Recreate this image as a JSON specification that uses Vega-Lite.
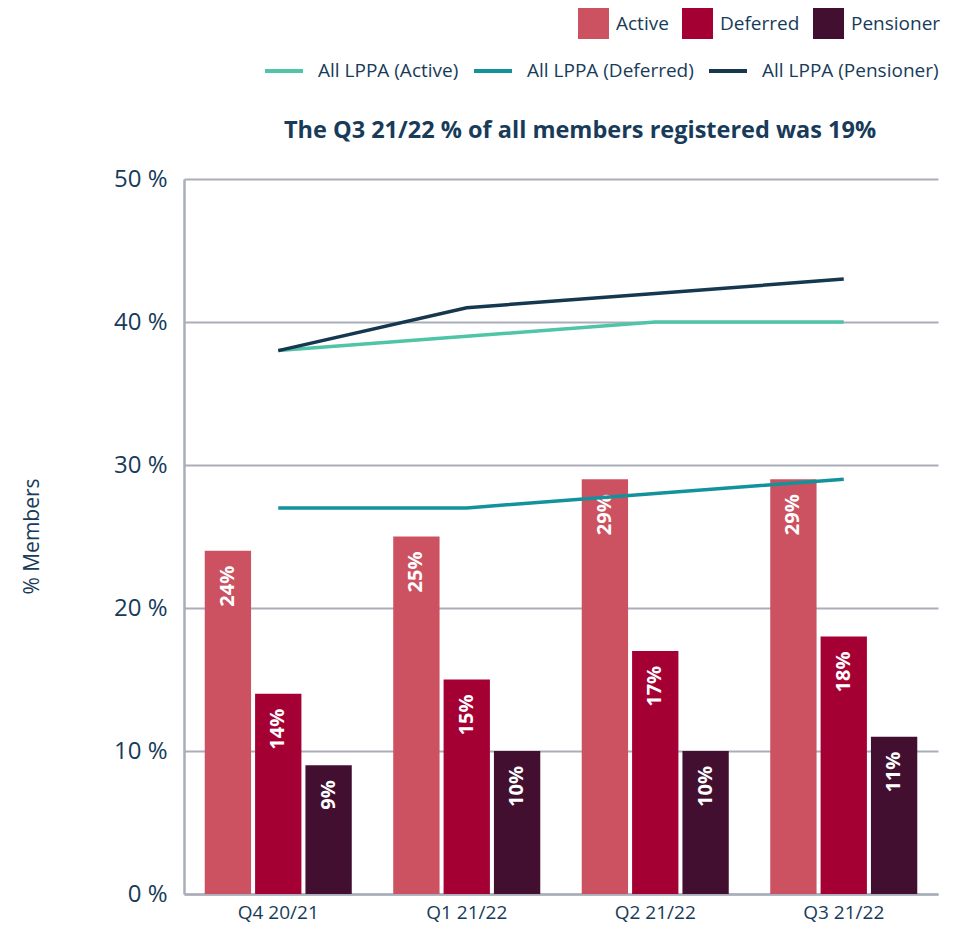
{
  "$schema": "https://vega.github.io/schema/vega-lite/v6.json",
  "width": 754,
  "height": 715,
  "autosize": {"type": "none"},
  "padding": {"left": 184, "top": 179, "right": 26, "bottom": 42},
  "background": "white",
  "config": {
    "font": "Open Sans",
    "view": {"stroke": null},
    "axis": {"labelColor": "#173b59", "titleColor": "#173b59"},
    "legend": {"labelColor": "#173b59", "labelLimit": 400}
  },
  "title": {
    "text": "The Q3 21/22 % of all members registered was 19%",
    "fontSize": 23.5,
    "fontWeight": "bold",
    "color": "#173b59",
    "anchor": "middle",
    "dx": 19,
    "offset": -134
  },
  "datasets": {
    "bars": [
      {"quarter": "Q4 20/21", "type": "Active", "value": 24},
      {"quarter": "Q4 20/21", "type": "Deferred", "value": 14},
      {"quarter": "Q4 20/21", "type": "Pensioner", "value": 9},
      {"quarter": "Q1 21/22", "type": "Active", "value": 25},
      {"quarter": "Q1 21/22", "type": "Deferred", "value": 15},
      {"quarter": "Q1 21/22", "type": "Pensioner", "value": 10},
      {"quarter": "Q2 21/22", "type": "Active", "value": 29},
      {"quarter": "Q2 21/22", "type": "Deferred", "value": 17},
      {"quarter": "Q2 21/22", "type": "Pensioner", "value": 10},
      {"quarter": "Q3 21/22", "type": "Active", "value": 29},
      {"quarter": "Q3 21/22", "type": "Deferred", "value": 18},
      {"quarter": "Q3 21/22", "type": "Pensioner", "value": 11}
    ],
    "lines": [
      {"quarter": "Q4 20/21", "series": "All LPPA (Active)", "value": 38},
      {"quarter": "Q1 21/22", "series": "All LPPA (Active)", "value": 39},
      {"quarter": "Q2 21/22", "series": "All LPPA (Active)", "value": 40},
      {"quarter": "Q3 21/22", "series": "All LPPA (Active)", "value": 40},
      {"quarter": "Q4 20/21", "series": "All LPPA (Deferred)", "value": 27},
      {"quarter": "Q1 21/22", "series": "All LPPA (Deferred)", "value": 27},
      {"quarter": "Q2 21/22", "series": "All LPPA (Deferred)", "value": 28},
      {"quarter": "Q3 21/22", "series": "All LPPA (Deferred)", "value": 29},
      {"quarter": "Q4 20/21", "series": "All LPPA (Pensioner)", "value": 38},
      {"quarter": "Q1 21/22", "series": "All LPPA (Pensioner)", "value": 41},
      {"quarter": "Q2 21/22", "series": "All LPPA (Pensioner)", "value": 42},
      {"quarter": "Q3 21/22", "series": "All LPPA (Pensioner)", "value": 43}
    ]
  },
  "layer": [
    {
      "data": {"name": "bars"},
      "mark": {"type": "bar"},
      "encoding": {
        "x": {
          "field": "quarter", "type": "nominal",
          "sort": ["Q4 20/21", "Q1 21/22", "Q2 21/22", "Q3 21/22"],
          "scale": {"paddingInner": 0.22, "paddingOuter": 0.11},
          "axis": {
            "title": null, "labelAngle": 0, "ticks": false, "grid": false,
            "domainColor": "#a9aeba", "domainWidth": 2.5,
            "labelFontSize": 19, "labelPadding": 9
          }
        },
        "xOffset": {
          "field": "type", "type": "nominal",
          "sort": ["Active", "Deferred", "Pensioner"],
          "scale": {"paddingInner": 0.08}
        },
        "y": {
          "field": "value", "type": "quantitative",
          "scale": {"domain": [0, 50]},
          "axis": {
            "values": [0, 10, 20, 30, 40, 50],
            "labelExpr": "datum.value + ' %'",
            "ticks": false,
            "domainColor": "#a9aeba", "domainWidth": 2.5,
            "gridColor": "#a9aeba", "gridWidth": 2,
            "labelFontSize": 24, "labelPadding": 17,
            "title": "% Members", "titleFontSize": 21, "titleFontWeight": "normal",
            "titleX": -152, "titleY": 357, "titleAlign": "center", "titleBaseline": "middle"
          }
        },
        "color": {
          "field": "type", "type": "nominal",
          "scale": {"domain": ["Active", "Deferred", "Pensioner"], "range": ["#cc5261", "#a50034", "#420f30"]},
          "legend": {
            "title": null, "orient": "none", "direction": "horizontal",
            "legendX": 394, "legendY": -171,
            "symbolType": "square", "symbolSize": 961, "symbolStrokeWidth": 0,
            "labelFontSize": 19, "labelOffset": 7, "columnPadding": 13
          }
        }
      }
    },
    {
      "data": {"name": "bars"},
      "transform": [{"calculate": "datum.value + '%'", "as": "label"}],
      "mark": {"type": "text", "angle": 270, "align": "right", "baseline": "middle", "dx": -15, "color": "white", "fontWeight": "bold", "fontSize": 20},
      "encoding": {
        "x": {"field": "quarter", "type": "nominal", "sort": ["Q4 20/21", "Q1 21/22", "Q2 21/22", "Q3 21/22"]},
        "xOffset": {"field": "type", "type": "nominal", "sort": ["Active", "Deferred", "Pensioner"]},
        "y": {"field": "value", "type": "quantitative"},
        "text": {"field": "label"}
      }
    },
    {
      "data": {"name": "lines"},
      "mark": {"type": "line", "strokeWidth": 3.5},
      "encoding": {
        "x": {"field": "quarter", "type": "nominal", "sort": ["Q4 20/21", "Q1 21/22", "Q2 21/22", "Q3 21/22"]},
        "y": {"field": "value", "type": "quantitative"},
        "color": {
          "field": "series", "type": "nominal",
          "scale": {"domain": ["All LPPA (Active)", "All LPPA (Deferred)", "All LPPA (Pensioner)"], "range": ["#4fc4a6", "#13929b", "#15374f"]},
          "legend": {
            "title": null, "orient": "none", "direction": "horizontal",
            "legendX": 79, "legendY": -129,
            "symbolType": "stroke", "symbolSize": 1444, "symbolStrokeWidth": 4,
            "labelFontSize": 19, "labelOffset": 13, "columnPadding": 7
          }
        }
      }
    }
  ],
  "resolve": {"scale": {"color": "independent"}}
}
